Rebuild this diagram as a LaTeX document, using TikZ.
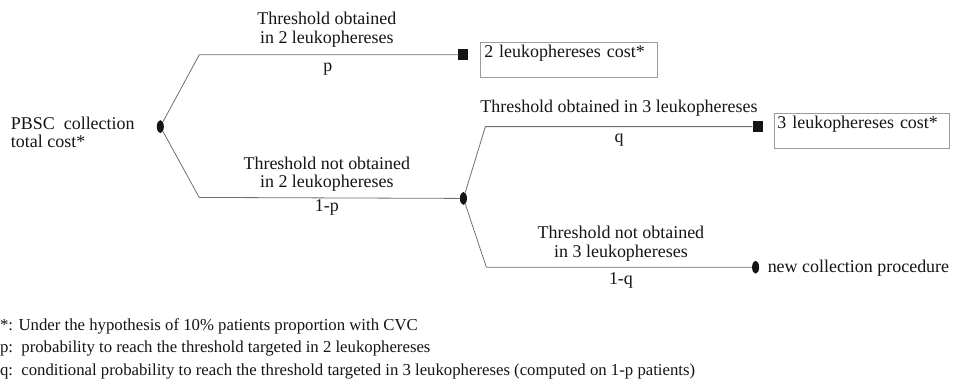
\documentclass[tikz,border=0pt]{standalone}
\usepackage{fontspec}
\setmainfont{Liberation Serif}
\usetikzlibrary{shapes.geometric,positioning}
\definecolor{ink}{HTML}{151515}
\definecolor{wire}{HTML}{707070}
\definecolor{frame}{HTML}{9C9C9C}
\newcommand{\Lab}{\fontsize{18}{18.5}\selectfont}
\newcommand{\Foot}{\fontsize{16.8}{19}\selectfont}
\tikzset{
  chance/.style={ellipse, fill=ink, minimum width=7pt, minimum height=13pt, inner sep=0pt},
  term/.style={rectangle, fill=ink, minimum width=10pt, minimum height=11pt, inner sep=0pt},
  costbox/.style={draw=frame, line width=0.8pt, anchor=north west, inner xsep=3.5pt, inner ysep=0pt,
                  text width=170pt, align=left, text height=15pt, text depth=20pt, font=\Lab, text=ink},
  branch/.style={draw=wire, line width=0.8pt},
  lab/.style={font=\Lab, text=ink, align=center, inner sep=0pt, anchor=base},
  foot/.style={font=\Foot, text=ink, anchor=base west, inner sep=0pt},
}

\begin{document}
\begin{tikzpicture}[x=1pt,y=-1pt]
      \fill[white] (0,0) rectangle (953,384);
      % decision tree
      \node[chance] (c0) at (158,127) {};
      \node[lab, align=left, anchor=base west] (root) at (8,148) {PBSC\ \ collection\\total cost*};
      \coordinate (b1) at (197,55);
      \coordinate (b2) at (197,198);
      \node[term] (sq2) at (462,55) {};
      \node[chance] (c1) at (462,199) {};
      \coordinate (b3) at (484,127);
      \coordinate (b4) at (485,268);
      \node[term] (sq3) at (757,127) {};
      \node[chance] (c2) at (755,268) {};
      \draw[branch] (c0) -- (b1) -- (sq2);
      \draw[branch] (c0) -- (b2) -- (c1);
      \draw[branch] (c1) -- (b3) -- (sq3);
      \draw[branch] (c1) -- (b4) -- (c2);
      % outcomes
      \node[costbox, text width=170pt] (cost2) at (479,42) {2 leukophereses cost*};
      \node[costbox, text width=169pt] (cost3) at (773,113) {3 leukophereses cost*};
      \node[lab, anchor=base west] (newproc) at (767,273) {new collection procedure};
      % branch labels
      \node[lab] (t2yes) at (325,43.5) {Threshold obtained\\in 2 leukophereses};
      \node[lab] (pp) at (326,72) {p};
      \node[lab] (t2no) at (325,188) {Threshold not obtained\\in 2 leukophereses};
      \node[lab] (pq) at (325,212) {1-p};
      \node[lab] (t3yes) at (618,113) {Threshold obtained in 3\ leukophereses};
      \node[lab] (qq) at (618,143) {q};
      \node[lab] (t3no) at (620,258) {Threshold not obtained\\in 3 leukophereses};
      \node[lab] (qn) at (620,285) {1-q};
      % footnotes
      \node[foot] (f1) at (-3,331) {*: Under the hypothesis of 10\% patients proportion with CVC};
      \node[foot] (f2) at (-3,354) {p:\ \ probability to reach the threshold targeted in 2 leukophereses};
      \node[foot] (f3) at (-3,377) {q:\ \ conditional probability to reach the threshold targeted in 3 leukophereses (computed on 1-p patients)};
\end{tikzpicture}
\end{document}
